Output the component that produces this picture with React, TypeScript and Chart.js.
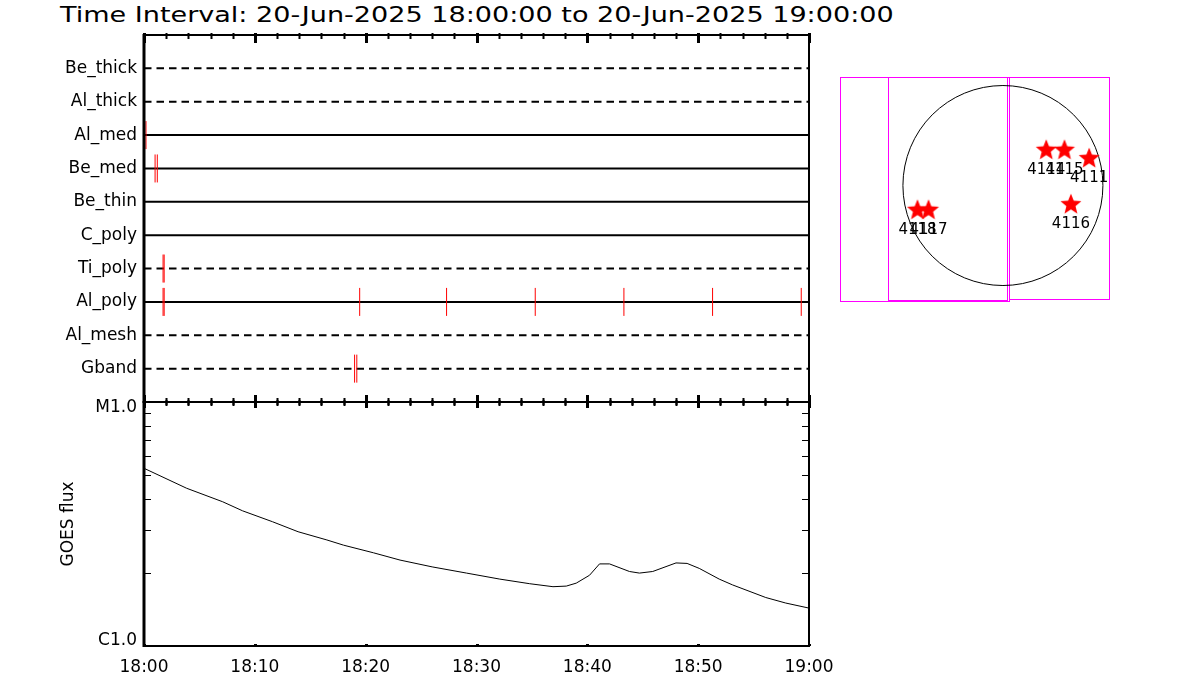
import React, { useEffect, useRef } from 'react';
import { Chart, registerables } from 'chart.js';
Chart.register(...registerables);

// ---------- DATA ----------
const titleText = 'Time Interval: 20-Jun-2025 18:00:00 to 20-Jun-2025 19:00:00';
const rowLabels = ['Be_thick', 'Al_thick', 'Al_med', 'Be_med', 'Be_thin', 'C_poly', 'Ti_poly', 'Al_poly', 'Al_mesh', 'Gband'];
const dashedRows = ['Be_thick', 'Al_thick', 'Ti_poly', 'Al_mesh', 'Gband'];

// event times (minutes after 18:00) per filter row
const alMedTimes = [0.18];
const beMedTimes = [1.0, 1.2];
const tiPolyTimes = [1.72, 1.82];
const alPolyTimes = [1.72, 1.82, 19.46, 27.3, 35.3, 43.3, 51.3, 59.3];
const gbandTimes = [19.0, 19.2];

const timeTickLabels = ['18:00', '18:10', '18:20', '18:30', '18:40', '18:50', '19:00'];

// GOES flux (W/m^2) vs minutes after 18:00
const goesMinutes = [0, 3.85, 7.1, 8.9, 11.6, 13.9, 16.5, 18.0, 20.7, 23.1, 26.0, 29.1, 32.1, 34.8, 36.9, 38.1, 39.0, 40.2, 41.1, 42.0, 43.8, 44.7, 45.9, 48.0, 49.0, 50.1, 51.9, 53.1, 56.1, 57.9, 60.0];
const goesFlux = [5.35e-6, 4.43e-6, 3.90e-6, 3.58e-6, 3.23e-6, 2.94e-6, 2.72e-6, 2.59e-6, 2.41e-6, 2.25e-6, 2.11e-6, 1.99e-6, 1.88e-6, 1.80e-6, 1.75e-6, 1.76e-6, 1.81e-6, 1.95e-6, 2.17e-6, 2.17e-6, 2.02e-6, 1.99e-6, 2.02e-6, 2.19e-6, 2.18e-6, 2.08e-6, 1.88e-6, 1.78e-6, 1.58e-6, 1.50e-6, 1.43e-6];

// solar map (arcsec)
const solarRadius = 960;
const flareX = [416, 591, 828, 653, -820, -714];
const flareY = [343, 343, 263, -179, -233, -233];
const flareLabels = ['4114', '4115', '4111', '4116', '4118', '4117'];
const boxX0 = [-1562, -1107, 60];
const boxX1 = [54, 38, 1023];
const boxY0 = [-1104, -1095, -1090];
const boxY1 = [1043, 1043, 1043];

// ---------- STYLE ----------
const FONT = '"DejaVu Sans", sans-serif';

const zeroPad = (s: any) => { s.paddingTop = 0; s.paddingBottom = 0; s.paddingLeft = 0; s.paddingRight = 0; };

const framePlugin = {
  id: 'frame',
  afterDraw(chart: any, _args: any, opts: any) {
    const { ctx, chartArea: a, scales } = chart;
    const x = scales.x;
    ctx.save();
    ctx.strokeStyle = '#000';
    ctx.lineCap = 'butt';
    ctx.lineWidth = 2;
    ctx.beginPath();
    ctx.moveTo(a.left, a.top); ctx.lineTo(a.right + 1, a.top);
    ctx.moveTo(a.right, a.top); ctx.lineTo(a.right, a.bottom);
    ctx.moveTo(a.left, a.bottom); ctx.lineTo(a.right + 1, a.bottom);
    ctx.stroke();
    ctx.lineWidth = 3;
    ctx.beginPath();
    ctx.moveTo(a.left, a.top - 1); ctx.lineTo(a.left, a.bottom + 1);
    ctx.stroke();
    for (let m = 0; m <= 60; m += 2) {
      const px = Math.round(x.getPixelForValue(m)) + 0.5;
      const major = m % 10 === 0;
      ctx.lineWidth = major ? 3 : 2;
      ctx.beginPath();
      if (opts.top) {
        const [up, down] = major ? opts.top[1] : opts.top[0];
        ctx.moveTo(px, a.top - up); ctx.lineTo(px, a.top + down);
      }
      if (opts.bottom) {
        const [up, down] = major ? opts.bottom[1] : opts.bottom[0];
        ctx.moveTo(px, a.bottom - up); ctx.lineTo(px, a.bottom + down);
      }
      ctx.stroke();
    }
    if (opts.yTicks) {
      const y = scales.y;
      ctx.lineWidth = 1;
      ctx.beginPath();
      y.ticks.forEach((t: any) => {
        const py = Math.round(y.getPixelForValue(t.value)) + 0.5;
        ctx.moveTo(a.left, py); ctx.lineTo(a.left + 7, py);
        ctx.moveTo(a.right, py); ctx.lineTo(a.right - 7, py);
      });
      ctx.stroke();
    }
    ctx.restore();
  },
};

const mapPlugin = {
  id: 'solarMap',
  beforeDatasetsDraw(chart: any) {
    const { ctx, scales } = chart;
    const x = scales.x, y = scales.y;
    ctx.save();
    ctx.strokeStyle = '#ff00ff';
    ctx.lineWidth = 1;
    boxX0.forEach((_, i) => {
      const l = Math.round(x.getPixelForValue(boxX0[i])) + 0.5;
      const r = Math.round(x.getPixelForValue(boxX1[i])) + 0.5;
      const t = Math.round(y.getPixelForValue(boxY1[i])) + 0.5;
      const b = Math.round(y.getPixelForValue(boxY0[i])) + 0.5;
      ctx.strokeRect(l, t, r - l, b - t);
    });
    const cx = x.getPixelForValue(0), cy = y.getPixelForValue(0);
    const rr = x.getPixelForValue(solarRadius) - cx;
    ctx.strokeStyle = '#000';
    ctx.beginPath();
    ctx.arc(cx, cy, rr, 0, Math.PI * 2);
    ctx.stroke();
    ctx.restore();
  },
  afterDatasetsDraw(chart: any) {
    const { ctx, scales } = chart;
    const x = scales.x, y = scales.y;
    ctx.save();
    ctx.fillStyle = '#000';
    ctx.font = `15px ${FONT}`;
    ctx.textAlign = 'center';
    ctx.textBaseline = 'middle';
    flareLabels.forEach((lab, i) => {
      ctx.fillText(lab, x.getPixelForValue(flareX[i]), y.getPixelForValue(flareY[i]) + 20);
    });
    ctx.restore();
  },
};

function makeStar(): HTMLCanvasElement {
  const c = document.createElement('canvas');
  c.width = 24; c.height = 24;
  const g = c.getContext('2d')!;
  g.fillStyle = '#ff0000';
  g.beginPath();
  for (let k = 0; k < 10; k++) {
    const r = k % 2 === 0 ? 11 : 4.8;
    const ang = -Math.PI / 2 + (k * Math.PI) / 5;
    const px = 12 + r * Math.cos(ang), py = 12.5 + r * Math.sin(ang);
    if (k === 0) g.moveTo(px, py); else g.lineTo(px, py);
  }
  g.closePath();
  g.fill();
  return c;
}

export default function App() {
  const topRef = useRef<HTMLCanvasElement>(null);
  const botRef = useRef<HTMLCanvasElement>(null);
  const mapRef = useRef<HTMLCanvasElement>(null);

  useEffect(() => {
    const charts: Chart[] = [];
    const noPlug = { legend: { display: false }, tooltip: { enabled: false }, title: { display: false } };

    // ---- top panel: filter rows ----
    const rowSets = rowLabels.map((lab, i) => ({
      type: 'line' as const,
      data: [{ x: 0, y: i + 1 }, { x: 60, y: i + 1 }],
      borderColor: '#000',
      borderWidth: 2,
      borderDash: dashedRows.includes(lab) ? [7.5, 5] : [],
      pointRadius: 0,
      tension: 0,
      clip: false as any,
      order: 2,
    }));
    const eventRows: [string, number[]][] = [
      ['Al_med', alMedTimes], ['Be_med', beMedTimes], ['Ti_poly', tiPolyTimes],
      ['Al_poly', alPolyTimes], ['Gband', gbandTimes],
    ];
    const eventSets = eventRows.map(([lab, times]) => ({
      type: 'scatter' as const,
      data: times.map((t) => ({ x: t, y: rowLabels.indexOf(lab) + 1 })),
      pointStyle: 'line',
      rotation: 90,
      pointRadius: 14,
      borderColor: '#ff0000',
      backgroundColor: '#ff0000',
      pointBorderWidth: 1,
      borderWidth: 1,
      clip: false as any,
      order: 1,
    }));
    charts.push(new Chart(topRef.current!, {
      type: 'line',
      data: { datasets: [...rowSets, ...eventSets] as any },
      options: {
        animation: false, responsive: false, events: [],
        layout: { autoPadding: false, padding: { left: 0, top: 35, right: 1200 - 809, bottom: 410 - 402 } },
        plugins: { ...noPlug, frame: { top: [[2, 4], [2, 8]], bottom: [[4, 3], [7, 5]] } } as any,
        scales: {
          x: { type: 'linear', min: 0, max: 60, display: false },
          y: {
            type: 'linear', min: 0, max: 11, reverse: true,
            afterFit: (s: any) => { s.width = 144; zeroPad(s); },
            grid: { display: false, drawTicks: false }, border: { display: false },
            ticks: {
              stepSize: 1, autoSkip: false, padding: 7, color: '#000',
              font: { family: FONT, size: 17 },
              callback: (v: any) => rowLabels[Math.round(v) - 1] ?? '',
            },
          },
        },
      },
      plugins: [framePlugin],
    }));

    // ---- bottom panel: GOES flux ----
    charts.push(new Chart(botRef.current!, {
      type: 'line',
      data: {
        datasets: [{
          data: goesMinutes.map((m, i) => ({ x: m, y: goesFlux[i] })),
          borderColor: '#000', borderWidth: 1, pointRadius: 0, tension: 0,
        }],
      },
      options: {
        animation: false, responsive: false, events: [],
        layout: { autoPadding: false, padding: { left: 58, top: 22, right: 1200 - 809, bottom: 14 } },
        plugins: { ...noPlug, frame: { top: [[2, 4], [2, 6]], bottom: [[0, 0], [2, 0]], yTicks: true } } as any,
        scales: {
          x: {
            type: 'linear', min: 0, max: 60,
            afterFit: (s: any) => { s.height = 40; zeroPad(s); },
            grid: { display: false, drawTicks: false }, border: { display: false },
            ticks: {
              stepSize: 10, autoSkip: false, maxRotation: 0, padding: 11, color: '#000',
              font: { family: FONT, size: 17 },
              callback: (v: any) => timeTickLabels[Math.round(v / 10)] ?? '',
            },
          },
          y: {
            type: 'logarithmic', min: 1e-6, max: 1e-5,
            afterFit: (s: any) => { s.width = 144 - 58; zeroPad(s); },
            grid: { display: false, drawTicks: false }, border: { display: false },
            title: { display: true, text: 'GOES flux', color: '#000', font: { family: FONT, size: 17 }, padding: 0 },
            ticks: {
              autoSkip: false, padding: 7, color: '#000',
              font: { family: FONT, size: 17, lineHeight: 0.6 },
              callback: (v: any) => {
                const l = Math.log10(v);
                if (Math.abs(l + 5) < 1e-6) return ['', 'M1.0'];
                if (Math.abs(l + 6) < 1e-6) return ['C1.0', ''];
                return '';
              },
            },
          },
        },
      },
      plugins: [framePlugin],
    }));

    // ---- solar map ----
    const star = makeStar();
    charts.push(new Chart(mapRef.current!, {
      type: 'scatter',
      data: {
        datasets: [{
          data: flareX.map((fx, i) => ({ x: fx, y: flareY[i] })),
          pointStyle: star as any,
          pointRadius: 11,
          clip: false as any,
        }],
      },
      options: {
        animation: false, responsive: false, events: [],
        layout: { autoPadding: false, padding: 0 },
        plugins: noPlug as any,
        scales: {
          x: { type: 'linear', min: -1660, max: 1124, display: false },
          y: { type: 'linear', min: -1195, max: 1109, display: false },
        },
      },
      plugins: [mapPlugin],
    }));

    return () => charts.forEach((c) => c.destroy());
  }, []);

  return (
    <div style={{ position: 'fixed', left: 0, top: 0, width: 1200, height: 700, background: '#fff', overflow: 'hidden' }}>
      <div style={{
        position: 'absolute', left: 60, top: 2, fontFamily: FONT, fontSize: 21, lineHeight: '26px',
        whiteSpace: 'nowrap', transform: 'scaleX(1.288)', transformOrigin: 'left top', color: '#000',
      }}>{titleText}</div>
      <canvas ref={topRef} width={1200} height={410} style={{ position: 'absolute', left: 0, top: 0 }} />
      <canvas ref={botRef} width={1200} height={320} style={{ position: 'absolute', left: 0, top: 380 }} />
      <canvas ref={mapRef} width={290} height={240} style={{ position: 'absolute', left: 830, top: 70 }} />
    </div>
  );
}
